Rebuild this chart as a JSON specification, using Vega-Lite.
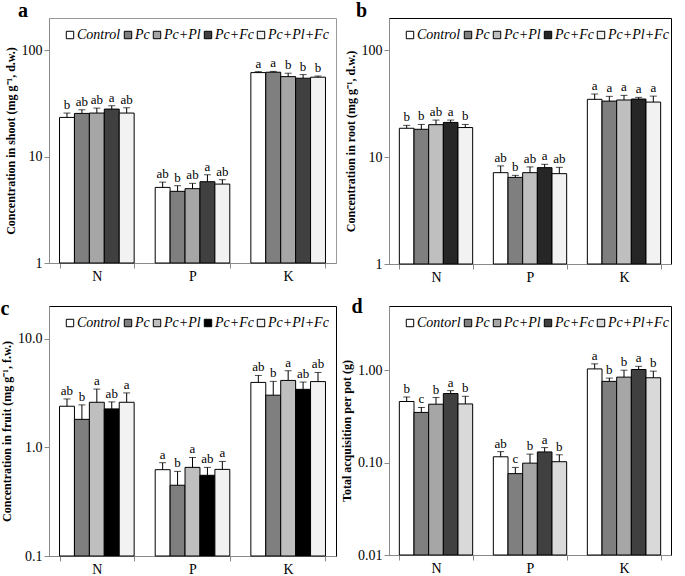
{
  "$schema": "https://vega.github.io/schema/vega-lite/v6.json",
  "padding": {"left": 0, "top": 0, "right": 0, "bottom": 0},
  "datasets": {
    "a": [
      {"el": "N", "tr": "Control", "v": 23.3, "e": 25.6, "lab": "b"},
      {"el": "N", "tr": "Pc", "v": 25.4, "e": 27.5, "lab": "ab"},
      {"el": "N", "tr": "Pc+Pl", "v": 25.6, "e": 28.5, "lab": "ab"},
      {"el": "N", "tr": "Pc+Fc", "v": 27.9, "e": 30.0, "lab": "a"},
      {"el": "N", "tr": "Pc+Pl+Fc", "v": 25.6, "e": 28.7, "lab": "ab"},
      {"el": "P", "tr": "Control", "v": 5.13, "e": 5.75, "lab": "ab"},
      {"el": "P", "tr": "Pc", "v": 4.71, "e": 5.32, "lab": "b"},
      {"el": "P", "tr": "Pc+Pl", "v": 4.99, "e": 5.6, "lab": "ab"},
      {"el": "P", "tr": "Pc+Fc", "v": 5.8, "e": 6.74, "lab": "a"},
      {"el": "P", "tr": "Pc+Pl+Fc", "v": 5.51, "e": 6.06, "lab": "ab"},
      {"el": "K", "tr": "Control", "v": 61.4, "e": 62.7, "lab": "a"},
      {"el": "K", "tr": "Pc", "v": 61.9, "e": 63.0, "lab": "a"},
      {"el": "K", "tr": "Pc+Pl", "v": 56.3, "e": 60.6, "lab": "b"},
      {"el": "K", "tr": "Pc+Fc", "v": 54.4, "e": 58.8, "lab": "b"},
      {"el": "K", "tr": "Pc+Pl+Fc", "v": 55.6, "e": 57.0, "lab": "b"}
    ],
    "b": [
      {"el": "N", "tr": "Control", "v": 18.6, "e": 19.8, "lab": "b"},
      {"el": "N", "tr": "Pc", "v": 18.2, "e": 20.2, "lab": "b"},
      {"el": "N", "tr": "Pc+Pl", "v": 20.1, "e": 22.2, "lab": "ab"},
      {"el": "N", "tr": "Pc+Fc", "v": 21.1, "e": 22.2, "lab": "a"},
      {"el": "N", "tr": "Pc+Pl+Fc", "v": 18.9, "e": 20.2, "lab": "b"},
      {"el": "P", "tr": "Control", "v": 7.15, "e": 8.27, "lab": "ab"},
      {"el": "P", "tr": "Pc", "v": 6.46, "e": 6.75, "lab": "b"},
      {"el": "P", "tr": "Pc+Pl", "v": 7.15, "e": 8.09, "lab": "ab"},
      {"el": "P", "tr": "Pc+Fc", "v": 7.97, "e": 8.56, "lab": "a"},
      {"el": "P", "tr": "Pc+Pl+Fc", "v": 7.0, "e": 8.02, "lab": "ab"},
      {"el": "K", "tr": "Control", "v": 34.7, "e": 38.9, "lab": "a"},
      {"el": "K", "tr": "Pc", "v": 33.4, "e": 37.0, "lab": "a"},
      {"el": "K", "tr": "Pc+Pl", "v": 34.2, "e": 37.8, "lab": "a"},
      {"el": "K", "tr": "Pc+Fc", "v": 34.9, "e": 36.2, "lab": "a"},
      {"el": "K", "tr": "Pc+Pl+Fc", "v": 32.7, "e": 37.2, "lab": "a"}
    ],
    "c": [
      {"el": "N", "tr": "Control", "v": 2.39, "e": 2.79, "lab": "ab"},
      {"el": "N", "tr": "Pc", "v": 1.81, "e": 2.46, "lab": "b"},
      {"el": "N", "tr": "Pc+Pl", "v": 2.6, "e": 3.44, "lab": "a"},
      {"el": "N", "tr": "Pc+Fc", "v": 2.26, "e": 2.62, "lab": "ab"},
      {"el": "N", "tr": "Pc+Pl+Fc", "v": 2.6, "e": 3.17, "lab": "a"},
      {"el": "P", "tr": "Control", "v": 0.623, "e": 0.722, "lab": "a"},
      {"el": "P", "tr": "Pc", "v": 0.448, "e": 0.601, "lab": "b"},
      {"el": "P", "tr": "Pc+Pl", "v": 0.654, "e": 0.807, "lab": "a"},
      {"el": "P", "tr": "Pc+Fc", "v": 0.553, "e": 0.654, "lab": "ab"},
      {"el": "P", "tr": "Pc+Pl+Fc", "v": 0.627, "e": 0.742, "lab": "a"},
      {"el": "K", "tr": "Control", "v": 3.96, "e": 4.59, "lab": "ab"},
      {"el": "K", "tr": "Pc", "v": 3.02, "e": 4.05, "lab": "b"},
      {"el": "K", "tr": "Pc+Pl", "v": 4.13, "e": 5.07, "lab": "a"},
      {"el": "K", "tr": "Pc+Fc", "v": 3.42, "e": 3.99, "lab": "ab"},
      {"el": "K", "tr": "Pc+Pl+Fc", "v": 4.03, "e": 4.89, "lab": "ab"}
    ],
    "d": [
      {"el": "N", "tr": "Contorl", "v": 0.461, "e": 0.516, "lab": "b"},
      {"el": "N", "tr": "Pc", "v": 0.351, "e": 0.397, "lab": "c"},
      {"el": "N", "tr": "Pc+Pl", "v": 0.431, "e": 0.509, "lab": "b"},
      {"el": "N", "tr": "Pc+Fc", "v": 0.562, "e": 0.605, "lab": "a"},
      {"el": "N", "tr": "Pc+Pl+Fc", "v": 0.434, "e": 0.525, "lab": "b"},
      {"el": "P", "tr": "Contorl", "v": 0.116, "e": 0.132, "lab": "ab"},
      {"el": "P", "tr": "Pc", "v": 0.0762, "e": 0.089, "lab": "c"},
      {"el": "P", "tr": "Pc+Pl", "v": 0.099, "e": 0.124, "lab": "b"},
      {"el": "P", "tr": "Pc+Fc", "v": 0.131, "e": 0.146, "lab": "a"},
      {"el": "P", "tr": "Pc+Pl+Fc", "v": 0.1026, "e": 0.122, "lab": "b"},
      {"el": "K", "tr": "Contorl", "v": 1.04, "e": 1.18, "lab": "a"},
      {"el": "K", "tr": "Pc", "v": 0.762, "e": 0.827, "lab": "b"},
      {"el": "K", "tr": "Pc+Pl", "v": 0.847, "e": 1.007, "lab": "b"},
      {"el": "K", "tr": "Pc+Fc", "v": 1.025, "e": 1.11, "lab": "a"},
      {"el": "K", "tr": "Pc+Pl+Fc", "v": 0.834, "e": 0.984, "lab": "b"}
    ]
  },
  "columns": 2,
  "align": "each",
  "spacing": {"row": 11, "column": 3},
  "resolve": {
    "scale": {"x": "independent", "y": "independent", "xOffset": "independent", "color": "independent"},
    "legend": {"color": "independent"}
  },
  "concat": [
    {
      "title": {"text": "a", "anchor": "start", "frame": "bounds", "dx": 14, "offset": -3},
      "width": 287, "height": 245,
      "view": {"stroke": "#9a9a9a"},
      "data": {"name": "a"},
      "encoding": {
        "x": {"field": "el", "type": "nominal", "sort": ["N", "P", "K"], "scale": {"paddingInner": 0.22, "paddingOuter": 0.11}, "axis": {"title": null}},
        "xOffset": {"field": "tr", "type": "nominal", "sort": ["Control", "Pc", "Pc+Pl", "Pc+Fc", "Pc+Pl+Fc"], "scale": {"paddingInner": 0, "paddingOuter": 0}}
      },
      "layer": [
        {
          "mark": {"type": "bar", "stroke": "black", "strokeWidth": 1},
          "encoding": {
            "y": {"field": "v", "type": "quantitative", "stack": null, "scale": {"type": "log", "domain": [1, 200], "nice": false}, "axis": {"title": "Concentration in shoot (mg g⁻¹, d.w.)", "values": [1, 10, 100], "format": ".0f"}},
            "color": {"field": "tr", "type": "nominal", "sort": ["Control", "Pc", "Pc+Pl", "Pc+Fc", "Pc+Pl+Fc"], "scale": {"domain": ["Control", "Pc", "Pc+Pl", "Pc+Fc", "Pc+Pl+Fc"], "range": ["#ffffff", "#7f7f7f", "#a6a6a6", "#404040", "#f2f2f2"]}}
          }
        },
        {"mark": {"type": "rule", "color": "black"}, "encoding": {"y": {"field": "v", "type": "quantitative"}, "y2": {"field": "e"}}},
        {"mark": {"type": "tick", "color": "black", "thickness": 1, "size": 7}, "encoding": {"y": {"field": "e", "type": "quantitative"}}},
        {"mark": {"type": "text", "baseline": "alphabetic", "dy": -4, "color": "black"}, "encoding": {"y": {"field": "e", "type": "quantitative"}, "text": {"field": "lab"}}}
      ]
    },
    {
      "title": {"text": "b", "anchor": "start", "frame": "bounds", "dx": 12, "offset": -3},
      "width": 282, "height": 246,
      "view": {"stroke": "black"},
      "data": {"name": "b"},
      "encoding": {
        "x": {"field": "el", "type": "nominal", "sort": ["N", "P", "K"], "scale": {"paddingInner": 0.22, "paddingOuter": 0.11}, "axis": {"title": null}},
        "xOffset": {"field": "tr", "type": "nominal", "sort": ["Control", "Pc", "Pc+Pl", "Pc+Fc", "Pc+Pl+Fc"], "scale": {"paddingInner": 0, "paddingOuter": 0}}
      },
      "layer": [
        {
          "mark": {"type": "bar", "stroke": "black", "strokeWidth": 1},
          "encoding": {
            "y": {"field": "v", "type": "quantitative", "stack": null, "scale": {"type": "log", "domain": [1, 200], "nice": false}, "axis": {"title": "Concentration in root (mg g⁻¹, d.w.)", "values": [1, 10, 100], "format": ".0f"}},
            "color": {"field": "tr", "type": "nominal", "sort": ["Control", "Pc", "Pc+Pl", "Pc+Fc", "Pc+Pl+Fc"], "scale": {"domain": ["Control", "Pc", "Pc+Pl", "Pc+Fc", "Pc+Pl+Fc"], "range": ["#ffffff", "#7f7f7f", "#bfbfbf", "#262626", "#f2f2f2"]}}
          }
        },
        {"mark": {"type": "rule", "color": "black"}, "encoding": {"y": {"field": "v", "type": "quantitative"}, "y2": {"field": "e"}}},
        {"mark": {"type": "tick", "color": "black", "thickness": 1, "size": 7}, "encoding": {"y": {"field": "e", "type": "quantitative"}}},
        {"mark": {"type": "text", "baseline": "alphabetic", "dy": -4, "color": "black"}, "encoding": {"y": {"field": "e", "type": "quantitative"}, "text": {"field": "lab"}}}
      ]
    },
    {
      "title": {"text": "c", "anchor": "start", "frame": "bounds", "dx": 0, "dy": 14, "offset": 1},
      "width": 287, "height": 250,
      "view": {"stroke": "black"},
      "data": {"name": "c"},
      "encoding": {
        "x": {"field": "el", "type": "nominal", "sort": ["N", "P", "K"], "scale": {"paddingInner": 0.22, "paddingOuter": 0.11}, "axis": {"title": null}},
        "xOffset": {"field": "tr", "type": "nominal", "sort": ["Control", "Pc", "Pc+Pl", "Pc+Fc", "Pc+Pl+Fc"], "scale": {"paddingInner": 0, "paddingOuter": 0}}
      },
      "layer": [
        {
          "mark": {"type": "bar", "stroke": "black", "strokeWidth": 1},
          "encoding": {
            "y": {"field": "v", "type": "quantitative", "stack": null, "scale": {"type": "log", "domain": [0.1, 20], "nice": false}, "axis": {"title": "Concentration in fruit (mg g⁻¹, f.w.)", "values": [0.1, 1, 10], "format": ".1f"}},
            "color": {"field": "tr", "type": "nominal", "sort": ["Control", "Pc", "Pc+Pl", "Pc+Fc", "Pc+Pl+Fc"], "scale": {"domain": ["Control", "Pc", "Pc+Pl", "Pc+Fc", "Pc+Pl+Fc"], "range": ["#ffffff", "#7f7f7f", "#bfbfbf", "#000000", "#f2f2f2"]}}
          }
        },
        {"mark": {"type": "rule", "color": "black"}, "encoding": {"y": {"field": "v", "type": "quantitative"}, "y2": {"field": "e"}}},
        {"mark": {"type": "tick", "color": "black", "thickness": 1, "size": 7}, "encoding": {"y": {"field": "e", "type": "quantitative"}}},
        {"mark": {"type": "text", "baseline": "alphabetic", "dy": -4, "color": "black"}, "encoding": {"y": {"field": "e", "type": "quantitative"}, "text": {"field": "lab"}}}
      ]
    },
    {
      "title": {"text": "d", "anchor": "start", "frame": "bounds", "dx": 11, "dy": 12, "offset": 1},
      "width": 282, "height": 249,
      "view": {"stroke": "black"},
      "data": {"name": "d"},
      "encoding": {
        "x": {"field": "el", "type": "nominal", "sort": ["N", "P", "K"], "scale": {"paddingInner": 0.22, "paddingOuter": 0.11}, "axis": {"title": null}},
        "xOffset": {"field": "tr", "type": "nominal", "sort": ["Contorl", "Pc", "Pc+Pl", "Pc+Fc", "Pc+Pl+Fc"], "scale": {"paddingInner": 0, "paddingOuter": 0}}
      },
      "layer": [
        {
          "mark": {"type": "bar", "stroke": "black", "strokeWidth": 1},
          "encoding": {
            "y": {"field": "v", "type": "quantitative", "stack": null, "scale": {"type": "log", "domain": [0.01, 5], "nice": false}, "axis": {"title": "Total acquisition per pot (g)", "values": [0.01, 0.1, 1], "format": ".2f"}},
            "color": {"field": "tr", "type": "nominal", "sort": ["Contorl", "Pc", "Pc+Pl", "Pc+Fc", "Pc+Pl+Fc"], "scale": {"domain": ["Contorl", "Pc", "Pc+Pl", "Pc+Fc", "Pc+Pl+Fc"], "range": ["#ffffff", "#7f7f7f", "#a6a6a6", "#404040", "#d9d9d9"]}}
          }
        },
        {"mark": {"type": "rule", "color": "black"}, "encoding": {"y": {"field": "v", "type": "quantitative"}, "y2": {"field": "e"}}},
        {"mark": {"type": "tick", "color": "black", "thickness": 1, "size": 7}, "encoding": {"y": {"field": "e", "type": "quantitative"}}},
        {"mark": {"type": "text", "baseline": "alphabetic", "dy": -4, "color": "black"}, "encoding": {"y": {"field": "e", "type": "quantitative"}, "text": {"field": "lab"}}}
      ]
    }
  ],
  "config": {
    "font": "Liberation Serif",
    "title": {"font": "Liberation Serif", "fontSize": 20, "fontWeight": "bold", "color": "black"},
    "text": {"font": "Liberation Serif", "fontSize": 13, "color": "black"},
    "axis": {
      "grid": false,
      "domainColor": "#8a8a8a",
      "tickColor": "#8a8a8a",
      "tickSize": 5,
      "labelFont": "Liberation Serif",
      "labelFontSize": 14,
      "labelColor": "black",
      "titleFont": "Liberation Serif",
      "titleFontSize": 12,
      "titleFontWeight": "bold",
      "titleColor": "black"
    },
    "axisY": {"labelPadding": 2, "titlePadding": 4},
    "axisX": {"labelAngle": 0, "labelPadding": 1, "tickBand": "extent"},
    "legend": {
      "orient": "none",
      "legendX": 14,
      "legendY": 10,
      "direction": "horizontal",
      "columns": 5,
      "title": null,
      "symbolType": "square",
      "symbolSize": 55,
      "symbolStrokeColor": "black",
      "symbolStrokeWidth": 1,
      "labelFont": "Liberation Serif",
      "labelFontStyle": "italic",
      "labelFontSize": 14,
      "labelColor": "black",
      "labelOffset": 0,
      "columnPadding": 0
    }
  }
}
